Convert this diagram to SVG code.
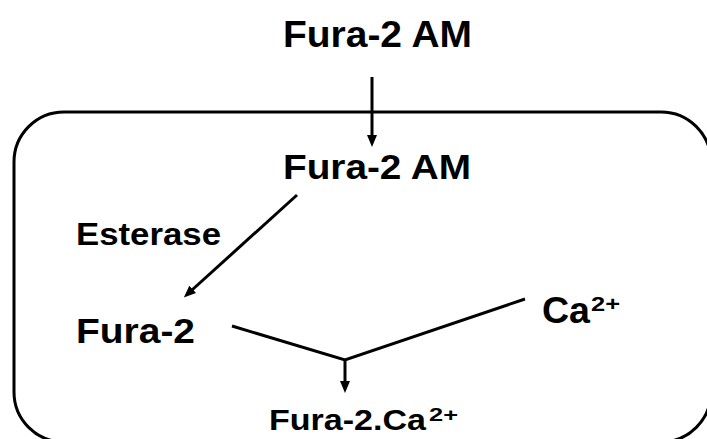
<svg xmlns="http://www.w3.org/2000/svg" width="707" height="439" viewBox="0 0 707 439">
  <style>
    .lbl { font-family: "Liberation Sans", Arial, sans-serif; font-weight: bold; fill: #000; }
    .ln { stroke: #000; stroke-width: 3; fill: none; }
    .cell { stroke: #000; stroke-width: 3; fill: none; }
  </style>
  <defs>
    <marker id="head" viewBox="0 0 12 10" refX="1" refY="5" markerWidth="12" markerHeight="10" markerUnits="userSpaceOnUse" orient="auto">
      <path d="M0,0 L12,5 L0,10 z" fill="#000"/>
    </marker>
  </defs>

  <!-- cell boundary -->
  <rect id="cell" class="cell" x="14" y="112" width="697" height="330" rx="50" ry="50"/>

  <g id="connectors">
    <line class="ln" x1="372" y1="77" x2="372" y2="136" marker-end="url(#head)"/>
    <line class="ln" x1="297" y1="195" x2="192" y2="290" marker-end="url(#head)"/>
    <polyline class="ln" points="232,326 345,360 525,299" stroke-linejoin="miter"/>
    <line class="ln" x1="345" y1="359" x2="345" y2="382" marker-end="url(#head)"/>
  </g>

  <g id="fura2am-out">
    <text class="lbl" x="283" y="46.7" font-size="36" textLength="189" lengthAdjust="spacingAndGlyphs">Fura-2 AM</text>
  </g>
  <g id="fura2am-in">
    <text class="lbl" x="283" y="179.3" font-size="35" textLength="188" lengthAdjust="spacingAndGlyphs">Fura-2 AM</text>
  </g>
  <g id="esterase">
    <text class="lbl" x="76" y="245" font-size="31" textLength="145" lengthAdjust="spacingAndGlyphs">Esterase</text>
  </g>
  <g id="fura2">
    <text class="lbl" x="76" y="343" font-size="35" textLength="119" lengthAdjust="spacingAndGlyphs">Fura-2</text>
  </g>
  <g id="calcium">
    <text class="lbl" x="542" y="322.7" font-size="36" textLength="48" lengthAdjust="spacingAndGlyphs">Ca</text>
    <text class="lbl" x="591" y="311" font-size="20" textLength="29" lengthAdjust="spacingAndGlyphs">2+</text>
  </g>
  <g id="fura2-ca">
    <text class="lbl" x="269" y="430" font-size="29" textLength="157" lengthAdjust="spacingAndGlyphs">Fura-2.Ca</text>
    <text class="lbl" x="429" y="421" font-size="18" textLength="29" lengthAdjust="spacingAndGlyphs">2+</text>
  </g>
</svg>
